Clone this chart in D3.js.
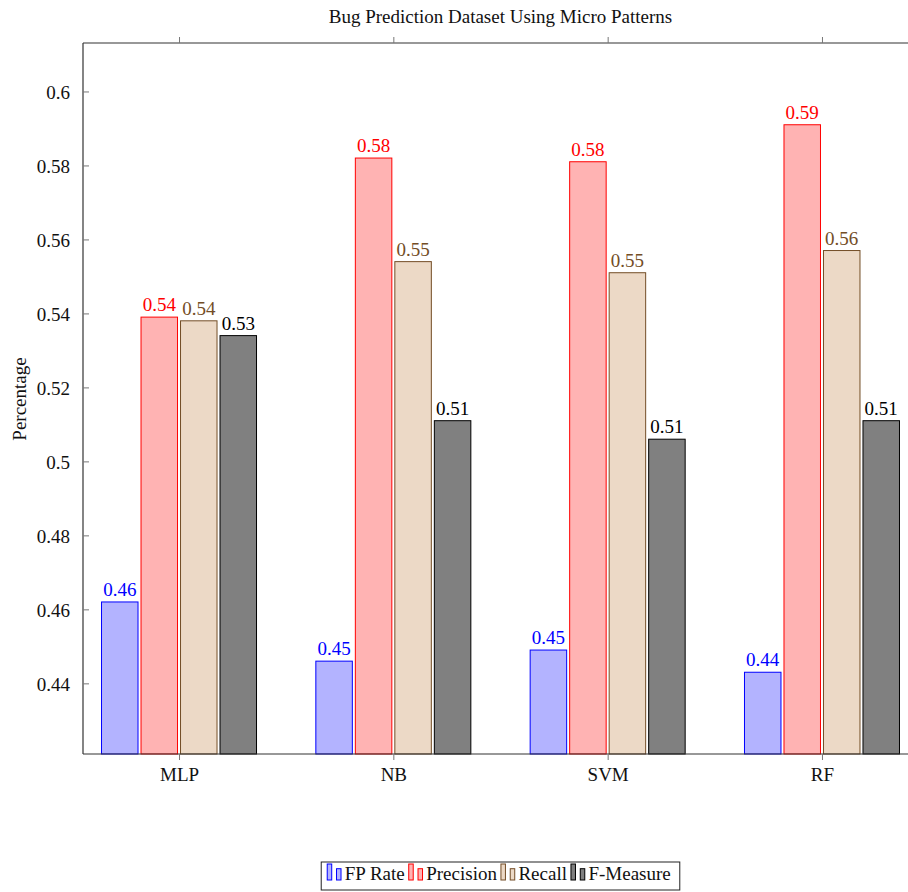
<!DOCTYPE html>
<html>
<head>
<meta charset="utf-8">
<script src="https://cdn.jsdelivr.net/npm/d3@7"></script>
<style>
  html, body { margin: 0; padding: 0; background: #fff; }
  svg { display: block; font-family: "Liberation Serif", "Times New Roman", serif; }
</style>
</head>
<body>
<svg id="chart" width="908" height="892"></svg>
<script>
const title = "Bug Prediction Dataset Using Micro Patterns";
const yLabel = "Percentage";
const categories = ["MLP", "NB", "SVM", "RF"];
const seriesNames = ["FP Rate", "Precision", "Recall", "F-Measure"];
const fpRate    = [0.462, 0.446, 0.449, 0.443];
const precision = [0.539, 0.582, 0.581, 0.591];
const recall    = [0.538, 0.554, 0.551, 0.557];
const fMeasure  = [0.534, 0.511, 0.506, 0.511];
const yTicks = [0.44, 0.46, 0.48, 0.5, 0.52, 0.54, 0.56, 0.58, 0.6];
const yTickLabels = ["0.44", "0.46", "0.48", "0.5", "0.52", "0.54", "0.56", "0.58", "0.6"];

const seriesValues = [fpRate, precision, recall, fMeasure];
const strokes = ["#0000ff", "#ff0000", "#734d26", "#000000"];
const fills = ["#b3b3ff", "#ffb3b3", "#ecd9c6", "#808080"];

const svg = d3.select("#chart");
const L = 83, R = 918, T = 43, B = 754;
const FS = 19;
const FONT = "'Liberation Serif', 'Times New Roman', serif";

const x = d3.scaleLinear().domain([-0.448, 3.448]).range([L, R]);
const y = d3.scaleLinear().domain([0.4209, 0.6131]).range([B, T]);
const sub = d3.scaleBand().domain(seriesNames).range([-77.5, 77.5]).paddingInner(0.076).paddingOuter(0);

// bars
const data = [];
categories.forEach((c, i) => {
  seriesNames.forEach((s, j) => {
    data.push({ cat: i, s: j, name: s, v: seriesValues[j][i] });
  });
});

const g = svg.append("g");
g.selectAll("rect.bar").data(data).join("rect")
  .attr("class", "bar")
  .attr("x", d => x(d.cat) + sub(d.name))
  .attr("width", sub.bandwidth())
  .attr("y", d => y(d.v))
  .attr("height", d => B - y(d.v))
  .attr("fill", d => fills[d.s])
  .attr("stroke", d => strokes[d.s])
  .attr("stroke-width", 1);

g.selectAll("text.val").data(data).join("text")
  .attr("class", "val")
  .attr("x", d => x(d.cat) + sub(d.name) + sub.bandwidth() / 2)
  .attr("y", d => y(d.v) - 6)
  .attr("text-anchor", "middle")
  .attr("font-size", FS)
  .attr("font-family", FONT)
  .attr("fill", d => strokes[d.s])
  .text(d => d3.format(".2f")(d.v));

// axes frame
const axisColor = "#333";
svg.append("line").attr("x1", L).attr("x2", R).attr("y1", T).attr("y2", T).attr("stroke", axisColor).attr("stroke-width", 1.2);
svg.append("line").attr("x1", L).attr("x2", R).attr("y1", B).attr("y2", B).attr("stroke", axisColor).attr("stroke-width", 1.2);
svg.append("line").attr("x1", L).attr("x2", L).attr("y1", T).attr("y2", B).attr("stroke", axisColor).attr("stroke-width", 1.2);

// y axis ticks (inward) and labels
const yAxis = d3.axisLeft(y).tickValues(yTicks).tickSizeInner(-6).tickSizeOuter(0)
  .tickPadding(13).tickFormat((d, i) => yTickLabels[i]);
const ya = svg.append("g").attr("transform", `translate(${L},0)`).call(yAxis);
ya.attr("font-family", FONT);
ya.select(".domain").remove();
ya.selectAll(".tick line").attr("stroke", "#777");
ya.selectAll(".tick text").attr("font-size", FS).attr("font-family", FONT).attr("fill", "#111").attr("dy", "0.36em");

// x axis bottom ticks (outward) and labels
const xb = d3.axisBottom(x).tickValues(d3.range(categories.length)).tickSize(6).tickSizeOuter(0)
  .tickPadding(8).tickFormat(i => categories[i]);
const xa = svg.append("g").attr("transform", `translate(0,${B})`).call(xb);
xa.attr("font-family", FONT);
xa.select(".domain").remove();
xa.selectAll(".tick line").attr("stroke", "#777");
xa.selectAll(".tick text").attr("font-size", FS).attr("font-family", FONT).attr("fill", "#111");

// x axis top ticks (outward)
const xt = d3.axisTop(x).tickValues(d3.range(categories.length)).tickSize(6).tickSizeOuter(0).tickFormat("");
const xta = svg.append("g").attr("transform", `translate(0,${T})`).call(xt);
xta.select(".domain").remove();
xta.selectAll(".tick line").attr("stroke", "#777");

// title
svg.append("text").attr("x", (L + R) / 2).attr("y", 23).attr("text-anchor", "middle")
  .attr("font-size", FS).attr("font-family", FONT).attr("fill", "#111").text(title);

// y label
svg.append("text").attr("transform", `translate(26,399) rotate(-90)`)
  .attr("text-anchor", "middle").attr("font-size", FS).attr("font-family", FONT).attr("fill", "#111").text(yLabel);

// legend
const legBox = svg.append("rect");
const leg = svg.append("g");
let cx = 0;
seriesNames.forEach((s, j) => {
  const it = leg.append("g");
  it.append("rect").attr("x", cx).attr("y", -16).attr("width", 4.5).attr("height", 16)
    .attr("fill", fills[j]).attr("stroke", strokes[j]).attr("stroke-width", 1);
  it.append("rect").attr("x", cx + 9.3).attr("y", -11.3).attr("width", 4.5).attr("height", 11.3)
    .attr("fill", fills[j]).attr("stroke", strokes[j]).attr("stroke-width", 1);
  const t = it.append("text").attr("x", cx + 17.5).attr("y", 0).attr("font-size", FS)
    .attr("font-family", FONT).attr("fill", "#111").text(s);
  const w = t.node().getComputedTextLength();
  cx += 17.5 + w + 4;
});
const legW = cx - 4 + 6 + 9;
const legX = (L + R) / 2 - legW / 2;
leg.attr("transform", `translate(${legX + 6},880)`);
legBox.attr("x", legX).attr("y", 862).attr("width", legW).attr("height", 28)
  .attr("fill", "#fff").attr("stroke", "#222").attr("stroke-width", 1);
</script>
</body>
</html>
